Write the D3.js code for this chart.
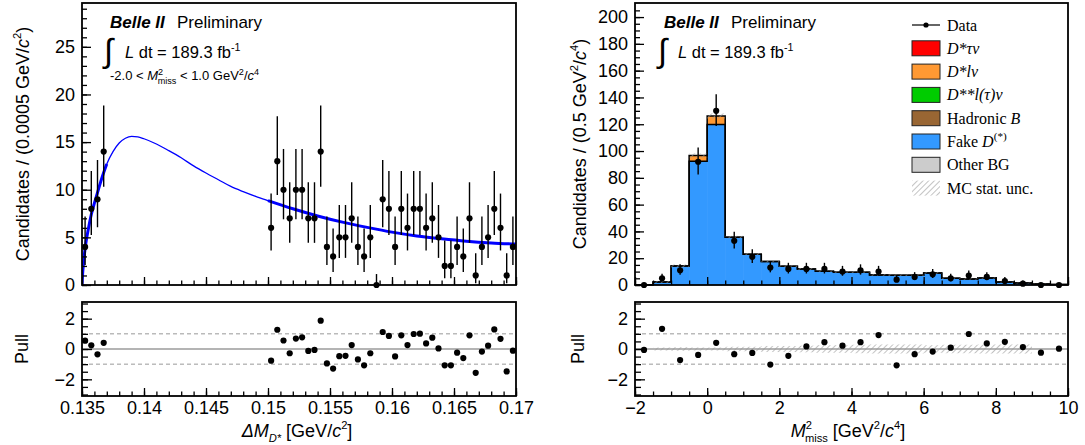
<!DOCTYPE html>
<html>
<head>
<meta charset="utf-8">
<script src="https://cdn.jsdelivr.net/npm/d3@7/dist/d3.min.js"></script>
<style>
body { margin: 0; background: #fff; }
svg { display: block; font-family: 'Liberation Sans', Arial, sans-serif; }
</style>
</head>
<body>
<script>
var width  = 1085
var height = 445

// ---- left: delta M fit (bins of 0.0005) ----
var dmBinWidth   = 0.0005
var dmLowCenters = [0.13525, 0.13575, 0.13625, 0.13675]
var dmLowCounts  = [4, 8, 9, 14]
var dmLowPulls   = [0.55, 0.24, -0.35, 0.41]
var dmHighFirst  = 0.15025
var dmHighCounts = [6, 13, 10, 7, 10, 10, 7, 7, 14, 4, 3, 5, 5, 7, 4, 3, 5, 0, 9, 8,
                    4, 8, 6, 8, 8, 6, 7, 5, 2, 2, 4, 3, 7, 1, 4, 5, 8, 6, 1, 4]
var dmHighPulls  = [-0.77, 1.27, 0.56, -0.28, 0.69, 0.77, -0.13, -0.06, 1.87, -0.95,
                    -1.29, -0.47, -0.45, 0.26, -0.69, -1.08, -0.28, null, 1.12, 0.86,
                    -0.49, 0.90, 0.26, 0.99, 1.01, 0.37, 0.75, 0.04, -1.08, -1.08,
                    -0.24, -0.60, 0.90, -1.57, -0.17, 0.22, 1.29, 0.67, -1.48, -0.11]
// fit curve
var fitX = [0.13500, 0.13505, 0.13510, 0.13520, 0.13530, 0.13550, 0.13575, 0.13600, 0.13625,
            0.13650, 0.13675, 0.13700, 0.13750, 0.13800, 0.13850, 0.13900, 0.13950, 0.14000,
            0.14100, 0.14200, 0.14300, 0.14400, 0.14500, 0.14600, 0.14700, 0.14800, 0.14900,
            0.15000, 0.15200, 0.15400, 0.15600, 0.15800, 0.16000, 0.16200, 0.16400, 0.16600,
            0.16800, 0.17000]
var fitY = [0, 1.2, 2.0, 3.3, 4.3, 5.8, 7.4, 8.6, 9.7, 10.8, 11.8, 12.7, 14.0, 14.9, 15.4,
            15.6, 15.55, 15.35, 14.8, 14.1, 13.35, 12.5, 11.75, 11.05, 10.35, 9.8, 9.3, 8.85,
            8.0, 7.25, 6.6, 6.05, 5.55, 5.15, 4.85, 4.6, 4.42, 4.3]
var fitRanges = [[0.135, 0.137], [0.150, 0.170]]

// ---- right: M2 miss (bins of 0.5) ----
var m2Edges  = d3.range(-2, 10, 0.5)
var m2Data   = [0, 5, 11, 92, 130, 33, 21, 13, 12, 12, 12, 10, 11, 10, 4, 6, 8, 5, 7, 6, 3, 1, 0, 0]
var m2Fake   = [0.1, 2.2, 14.2, 92.3, 119.8, 35.7, 23.0, 17.6, 14.0, 12.0, 10.2, 9.5,
                9.5, 7.5, 7.2, 7.2, 9.0, 5.0, 4.5, 5.2, 2.2, 1.5, 0.8, 0.3]
var m2Dlnu   = [0, 0, 0, 4.3, 6.3, 0, 0, 0, 0, 0, 0, 0, 0, 0, 0, 0, 0, 0, 0, 0, 0, 0, 0, 0]
var m2McUnc  = [0.2, 0.8, 1.2, 1.6, 2.0, 1.0, 0.8, 0.8, 0.7, 0.7, 0.7, 0.6,
                0.6, 0.6, 0.6, 0.6, 0.6, 0.5, 0.5, 0.5, 0.4, 0.3, 0.2, 0]
var m2Pulls  = [-0.06, 1.33, -0.73, -0.39, 0.41, -0.34, -0.26, -1.03, -0.45, 0.17, 0.45, 0.22,
                0.45, 0.92, -1.08, -0.34, -0.17, 0.09, 0.99, 0.37, 0.47, 0.13, -0.24, 0.02]
var m2PullUnc = [0, 0.1, 0.12, 0.1, 0.1, 0.15, 0.15, 0.2, 0.2, 0.22, 0.25, 0.25,
                 0.28, 0.3, 0.3, 0.3, 0.25, 0.28, 0.28, 0.3, 0.3, 0.3, 0, 0]

var legendColors = ['#ff0000', '#ff9933', '#00cc00', '#996633', '#3399ff', '#cccccc']

var svg = d3.select('body')
	.append('svg')
	.attr('width', width)
	.attr('height', height)

var defs = svg.append('defs')
defs.append('pattern')
	.attr('id', 'hatch')
	.attr('patternUnits', 'userSpaceOnUse')
	.attr('width', 4).attr('height', 4)
	.attr('patternTransform', 'rotate(45)')
	.append('line')
	.attr('x1', 0).attr('y1', 0).attr('x2', 0).attr('y2', 4)
	.attr('stroke', '#9a9a9a').attr('stroke-width', 1.2)

// Poisson interval (RooFit gives 1.15 upward for an empty bin)
function poissonErr(n) {
	if (n === 0) return [0, 1.15]
	var hi = n + Math.sqrt(n + 0.75) + 1
	var lo = n * Math.pow(1 - 1 / (9 * n) - 1 / (3 * Math.sqrt(n)), 3)
	return [n - lo, hi - n]
}

// text with italic / super / sub parts
function rich(text, parts, size) {
	var off = 0
	parts.forEach(p => {
		var ts = text.append('tspan').text(p.t)
		var target = p.sup ? -size * 0.42 : p.sub ? size * 0.28 : 0
		ts.attr('dy', target - off)
		off = target
		if (p.sup || p.sub) ts.attr('font-size', size * (p.s || 0.62))
		if (p.i) ts.attr('font-style', 'italic')
		if (p.b) ts.attr('font-weight', 'bold')
		if (p.dx) ts.attr('dx', p.dx)
	})
	return text
}

function label(x, y, size, parts, opts) {
	opts = opts || {}
	var t = svg.append('text')
		.attr('font-size', size)
		.attr('fill', '#000')
		.attr('text-anchor', opts.anchor || 'start')
	if (opts.rotate) t.attr('transform', 'translate(' + [x, y] + ') rotate(-90)')
	else t.attr('x', x).attr('y', y)
	if (opts.family) t.attr('font-family', opts.family)
	return rich(t, parts, size)
}

// inward ROOT-style ticks
function drawAxes(g, x, y, cfg) {
	var h = y.range()[0], w = x.range()[1]
	g.append('g')
		.attr('transform', 'translate(' + [0, h] + ')')
		.call(d3.axisBottom(x).tickValues(cfg.xMinor).tickSize(-cfg.xMinorLen).tickFormat(''))
	g.append('g')
		.attr('transform', 'translate(' + [0, h] + ')')
		.call(d3.axisBottom(x).tickValues(cfg.xMajor).tickSizeInner(-cfg.xMajorLen).tickSizeOuter(0)
			.tickPadding(5).tickFormat(cfg.xFormat || ''))
	g.append('g')
		.call(d3.axisLeft(y).tickValues(cfg.yMinor).tickSize(-cfg.yMinorLen).tickFormat(''))
	g.append('g')
		.call(d3.axisLeft(y).tickValues(cfg.yMajor).tickSizeInner(-cfg.yMajorLen).tickSizeOuter(0)
			.tickPadding(7).tickFormat(cfg.yFormat))
	g.selectAll('.domain').remove()
	g.selectAll('.tick line').attr('stroke', '#000').attr('stroke-width', 1.3)
	g.selectAll('.tick text').attr('font-size', 18).attr('fill', '#000')
		.attr('font-family', "'Liberation Sans', Arial, sans-serif")
	g.append('rect')
		.attr('x', 0).attr('y', 0).attr('width', w).attr('height', h)
		.attr('fill', 'none').attr('stroke', '#000').attr('stroke-width', 1.8)
}

var fmtMinus = d => (d < 0 ? '\u2212' : '') + Math.abs(d)

// ================= LEFT PANEL =================
var L = { left: 82, right: 516, top: 3, bottom: 285, pTop: 302, pBottom: 396 }

var xL = d3.scaleLinear().domain([0.135, 0.17]).range([0, L.right - L.left])
var yL = d3.scaleLinear().domain([0, 29.6]).range([L.bottom - L.top, 0])
var yP = d3.scaleLinear().domain([-3.1, 3.1]).range([L.pBottom - L.pTop, 0])

var gL = svg.append('g').attr('transform', 'translate(' + [L.left, L.top] + ')')
svg.append('clipPath').attr('id', 'clipL').append('rect')
	.attr('width', L.right - L.left).attr('height', L.bottom - L.top)

var dmHighCenters = dmHighCounts.map((d, i) => dmHighFirst + i * dmBinWidth)
var dmPoints = dmLowCenters.map((c, i) => ({ x: c, n: dmLowCounts[i], p: dmLowPulls[i] }))
	.concat(dmHighCenters.map((c, i) => ({ x: c, n: dmHighCounts[i], p: dmHighPulls[i] })))

var fitPts = fitX.map((x, i) => [x, fitY[i]])
var fitLine = d3.line().x(d => xL(d[0])).y(d => yL(d[1])).curve(d3.curveMonotoneX)
var curveG = gL.append('g').attr('clip-path', 'url(#clipL)')
curveG.append('path')
	.attr('d', fitLine(fitPts))
	.attr('fill', 'none').attr('stroke', '#0000ff').attr('stroke-width', 1.3)
fitRanges.forEach(r => {
	curveG.append('path')
		.attr('d', fitLine(fitPts.filter(d => d[0] >= r[0] - 1e-9 && d[0] <= r[1] + 1e-9)))
		.attr('fill', 'none').attr('stroke', '#0000ff').attr('stroke-width', 3)
})

gL.selectAll('line.err')
	.data(dmPoints)
	.enter().append('line')
	.attr('class', 'err')
	.attr('x1', d => xL(d.x)).attr('x2', d => xL(d.x))
	.attr('y1', d => yL(d.n - poissonErr(d.n)[0]))
	.attr('y2', d => yL(d.n + poissonErr(d.n)[1]))
	.attr('stroke', '#000').attr('stroke-width', 1.4)
gL.selectAll('circle.pt')
	.data(dmPoints)
	.enter().append('circle')
	.attr('class', 'pt')
	.attr('cx', d => xL(d.x)).attr('cy', d => yL(d.n)).attr('r', 3.1)
	.attr('fill', '#000')

drawAxes(gL, xL, yL, {
	xMajor: d3.range(0.135, 0.1701, 0.005), xMinor: d3.range(0.135, 0.1701, 0.001),
	xMajorLen: 8, xMinorLen: 4.5,
	yMajor: d3.range(0, 26, 5), yMinor: d3.range(0, 30, 1),
	yMajorLen: 9, yMinorLen: 5, yFormat: d3.format('d')
})

// left pull
var gLP = svg.append('g').attr('transform', 'translate(' + [L.left, L.pTop] + ')')
function pullGuides(g, x) {
	var w = x.range()[1]
	g.append('line').attr('x1', 0).attr('x2', w).attr('y1', yP(0)).attr('y2', yP(0))
		.attr('stroke', '#b4b4b4').attr('stroke-width', 2)
	;[1, -1].forEach(v => {
		g.append('line').attr('x1', 0).attr('x2', w).attr('y1', yP(v)).attr('y2', yP(v))
			.attr('stroke', '#999').attr('stroke-width', 1).attr('stroke-dasharray', '4,3')
	})
}
pullGuides(gLP, xL)
gLP.selectAll('circle')
	.data(dmPoints.filter(d => d.p !== null))
	.enter().append('circle')
	.attr('cx', d => xL(d.x)).attr('cy', d => yP(d.p)).attr('r', 3.1)
	.attr('fill', '#000')
drawAxes(gLP, xL, yP, {
	xMajor: d3.range(0.135, 0.1701, 0.005), xMinor: d3.range(0.135, 0.1701, 0.001),
	xMajorLen: 8, xMinorLen: 4.5, xFormat: d => String(+d.toFixed(3)),
	yMajor: [-2, 0, 2], yMinor: d3.range(-3, 3.01, 0.5),
	yMajorLen: 10, yMinorLen: 6, yFormat: fmtMinus
})

// ================= RIGHT PANEL =================
var R = { left: 635, right: 1068, top: 3, bottom: 285, pTop: 302, pBottom: 396 }
var xR = d3.scaleLinear().domain([-2, 10]).range([0, R.right - R.left])
var yR = d3.scaleLinear().domain([0, 210.5]).range([R.bottom - R.top, 0])
var gR = svg.append('g').attr('transform', 'translate(' + [R.left, R.top] + ')')

var m2Bins = m2Edges.map((lo, i) => ({
	lo: lo, hi: lo + 0.5, c: lo + 0.25,
	fake: m2Fake[i], dlnu: m2Dlnu[i], tot: m2Fake[i] + m2Dlnu[i],
	unc: m2McUnc[i], n: m2Data[i], p: m2Pulls[i], pu: m2PullUnc[i]
}))

// widths padded by half a pixel so neighbouring bins do not show seams
gR.selectAll('rect.fake')
	.data(m2Bins).enter().append('rect')
	.attr('x', d => xR(d.lo)).attr('width', d => xR(d.hi) - xR(d.lo) + 0.6)
	.attr('y', d => yR(d.fake)).attr('height', d => yR(0) - yR(d.fake))
	.attr('fill', legendColors[4])
gR.selectAll('rect.dlnu')
	.data(m2Bins.filter(d => d.dlnu > 0)).enter().append('rect')
	.attr('x', d => xR(d.lo)).attr('width', d => xR(d.hi) - xR(d.lo))
	.attr('y', d => yR(d.tot)).attr('height', d => yR(d.fake) - yR(d.tot))
	.attr('fill', legendColors[1])

function stepPath(vals) {
	var pts = [[m2Edges[0], 0]]
	m2Bins.forEach((b, i) => { pts.push([b.lo, vals[i]]); pts.push([b.hi, vals[i]]) })
	pts.push([10, 0])
	return d3.line().x(d => xR(d[0])).y(d => yR(d[1]))(pts)
}
gR.append('path').attr('d', stepPath(m2Fake))
	.attr('fill', 'none').attr('stroke', '#000').attr('stroke-width', 1.5)
gR.append('path').attr('d', stepPath(m2Bins.map(b => b.tot)))
	.attr('fill', 'none').attr('stroke', '#000').attr('stroke-width', 1.5)

gR.selectAll('rect.unc')
	.data(m2Bins.filter(d => d.unc > 0)).enter().append('rect')
	.attr('x', d => xR(d.lo)).attr('width', d => xR(d.hi) - xR(d.lo))
	.attr('y', d => yR(d.tot + d.unc)).attr('height', d => yR(d.tot - d.unc) - yR(d.tot + d.unc))
	.attr('fill', 'url(#hatch)')

gR.selectAll('line.err')
	.data(m2Bins.filter(d => d.n > 0)).enter().append('line')
	.attr('x1', d => xR(d.c)).attr('x2', d => xR(d.c))
	.attr('y1', d => yR(d.n - poissonErr(d.n)[0]))
	.attr('y2', d => yR(d.n + poissonErr(d.n)[1]))
	.attr('stroke', '#000').attr('stroke-width', 1.4)
gR.selectAll('circle.pt')
	.data(m2Bins).enter().append('circle')
	.attr('cx', d => xR(d.c)).attr('cy', d => yR(d.n)).attr('r', 3.1)
	.attr('fill', '#000')

drawAxes(gR, xR, yR, {
	xMajor: d3.range(-2, 10.01, 2), xMinor: d3.range(-2, 10.01, 0.5),
	xMajorLen: 8, xMinorLen: 4.5,
	yMajor: d3.range(0, 201, 20), yMinor: d3.range(0, 210, 5),
	yMajorLen: 9, yMinorLen: 5, yFormat: d3.format('d')
})

// right pull
var gRP = svg.append('g').attr('transform', 'translate(' + [R.left, R.pTop] + ')')
pullGuides(gRP, xR)
gRP.selectAll('rect.unc')
	.data(m2Bins.filter(d => d.pu > 0)).enter().append('rect')
	.attr('x', d => xR(d.lo)).attr('width', d => xR(d.hi) - xR(d.lo))
	.attr('y', d => yP(d.pu)).attr('height', d => yP(-d.pu) - yP(d.pu))
	.attr('fill', 'url(#hatch)')
gRP.selectAll('circle')
	.data(m2Bins).enter().append('circle')
	.attr('cx', d => xR(d.c)).attr('cy', d => yP(d.p)).attr('r', 3.1)
	.attr('fill', '#000')
drawAxes(gRP, xR, yP, {
	xMajor: d3.range(-2, 10.01, 2), xMinor: d3.range(-2, 10.01, 0.5),
	xMajorLen: 8, xMinorLen: 4.5, xFormat: fmtMinus,
	yMajor: [-2, 0, 2], yMinor: d3.range(-3, 3.01, 0.5),
	yMajorLen: 10, yMinorLen: 6, yFormat: fmtMinus
})

// ---- legend ----
var serif = "'Liberation Serif', 'Times New Roman', serif"
var legendLabels = [
	[{ t: 'D*\u03c4\u03bd', i: 1 }],
	[{ t: 'D*l\u03bd', i: 1 }],
	[{ t: 'D**l(\u03c4)\u03bd', i: 1 }],
	[{ t: 'Hadronic ' }, { t: 'B', i: 1 }],
	[{ t: 'Fake ' }, { t: 'D', i: 1 }, { t: '(*)', sup: 1, s: 0.7 }],
	[{ t: 'Other BG' }]
]
var legX = 912, legY0 = 25, legDy = 23.3
svg.append('line').attr('x1', legX).attr('x2', legX + 28).attr('y1', legY0).attr('y2', legY0)
	.attr('stroke', '#000').attr('stroke-width', 1.2)
svg.append('circle').attr('cx', legX + 14).attr('cy', legY0).attr('r', 2.6).attr('fill', '#000')
label(legX + 35, legY0 + 5.5, 16, [{ t: 'Data' }], { family: serif })
legendLabels.forEach((parts, i) => {
	var cy = legY0 + legDy * (i + 1)
	svg.append('rect').attr('x', legX).attr('y', cy - 7.5).attr('width', 28).attr('height', 15)
		.attr('fill', legendColors[i]).attr('stroke', '#222').attr('stroke-width', 1)
	label(legX + 35, cy + 5.5, 16, parts, { family: serif })
})
var cyUnc = legY0 + legDy * 7
svg.append('rect').attr('x', legX).attr('y', cyUnc - 7.5).attr('width', 28).attr('height', 15)
	.attr('fill', 'url(#hatch)')
label(legX + 35, cyUnc + 5.5, 16, [{ t: 'MC stat. unc.' }], { family: serif })

// ---- annotations ----
function belle(x, ix, lx) {
	label(x, 28, 17, [{ t: 'Belle II', b: 1, i: 1 }])
	label(x + 67, 28, 17, [{ t: 'Preliminary' }])
	label(ix, 62, 33, [{ t: '\u222b' }])
	label(lx, 58, 16.5, [{ t: 'L', i: 1 }, { t: ' dt = 189.3 fb' }, { t: '-1', sup: 1, s: 0.65 }])
}
belle(110, 104, 125)
belle(664, 658, 678)
label(110, 80, 13, [{ t: '-2.0 < ' }, { t: 'M', i: 1 }, { t: '2', sup: 1, s: 0.7 },
	{ t: 'miss', sub: 1, s: 0.7, dx: -5.5 }, { t: ' < 1.0 GeV' }, { t: '2', sup: 1, s: 0.7 },
	{ t: '/' }, { t: 'c', i: 1 }, { t: '4', sup: 1, s: 0.7 }])

// axis titles
label(29, 144, 18, [{ t: 'Candidates / (0.0005 GeV/' }, { t: 'c', i: 1 }, { t: '2', sup: 1 }, { t: ')' }],
	{ rotate: 1, anchor: 'middle' })
label(586, 144, 18, [{ t: 'Candidates / (0.5 GeV' }, { t: '2', sup: 1 }, { t: '/' }, { t: 'c', i: 1 },
	{ t: '4', sup: 1 }, { t: ')' }], { rotate: 1, anchor: 'middle' })
label(28, 349, 18, [{ t: 'Pull' }], { rotate: 1, anchor: 'middle' })
label(584, 349, 18, [{ t: 'Pull' }], { rotate: 1, anchor: 'middle' })
label(297, 437, 18, [{ t: '\u0394M', i: 1 }, { t: 'D*', sub: 1, i: 1 }, { t: ' [GeV/' }, { t: 'c', i: 1 },
	{ t: '2', sup: 1 }, { t: ']' }], { anchor: 'middle' })
label(848, 437, 18, [{ t: 'M', i: 1 }, { t: '2', sup: 1 }, { t: 'miss', sub: 1, dx: -7 },
	{ t: ' [GeV' }, { t: '2', sup: 1 }, { t: '/' }, { t: 'c', i: 1 }, { t: '4', sup: 1 }, { t: ']' }],
	{ anchor: 'middle' })
</script>
</body>
</html>
